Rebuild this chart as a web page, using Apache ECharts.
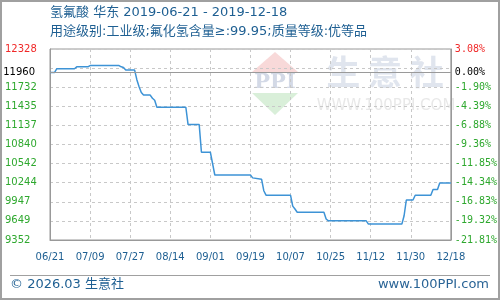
<!DOCTYPE html>
<html>
<head>
<meta charset="utf-8">
<script src="https://cdn.jsdelivr.net/npm/echarts@6/dist/echarts.min.js"></script>
<style>html,body{margin:0;padding:0;background:#fff}#c{width:500px;height:300px}</style>
</head>
<body>
<div id="c"></div>
<script>
// ---- data ----
const titleText = '氢氟酸 华东 2019-06-21 - 2019-12-18';
const subTitleText = '用途级别:工业级;氟化氢含量≥:99.95;质量等级:优等品';
const startDate = '2019-06-21';
const endDate = '2019-12-18';
const dates = ['2019-06-21','2019-06-23','2019-06-24','2019-07-02','2019-07-03','2019-07-08','2019-07-09','2019-07-22','2019-07-23','2019-07-24','2019-07-25','2019-07-29','2019-07-30','2019-07-31','2019-08-01','2019-08-02','2019-08-05','2019-08-06','2019-08-07','2019-08-08','2019-08-21','2019-08-22','2019-08-27','2019-08-28','2019-09-01','2019-09-03','2019-09-19','2019-09-20','2019-09-24','2019-09-25','2019-09-26','2019-10-07','2019-10-08','2019-10-09','2019-10-10','2019-10-22','2019-10-23','2019-10-24','2019-11-10','2019-11-11','2019-11-26','2019-11-27','2019-11-28','2019-12-01','2019-12-02','2019-12-09','2019-12-10','2019-12-12','2019-12-13','2019-12-18'];
const prices = [11960,11960,12020,12020,12050,12050,12070,12070,12050,12040,12000,12000,11850,11740,11650,11610,11610,11560,11530,11420,11420,11150,11150,10720,10720,10365,10365,10320,10300,10120,10050,10050,9880,9835,9785,9785,9680,9650,9650,9600,9600,9730,9975,9975,10050,10050,10140,10140,10240,10240];
const baseValue = 11960;
const yMin = 9352;
const yMax = 12328;
const xTickLabels = ['06/21','07/09','07/27','08/14','09/01','09/19','10/07','10/25','11/12','11/30','12/18'];
const leftTickLabels = ['9352','9649','9947','10244','10542','10840','11137','11435','11732','','12328'];
const rightTickLabels = ['-21.81%','-19.32%','-16.83%','-14.34%','-11.85%','-9.36%','-6.88%','-4.39%','-1.90%','','3.08%'];

// ---- build ----
function dayNum(s){const p=s.split('-').map(Number);return Date.UTC(p[0],p[1]-1,p[2])/86400000;}
const d0 = dayNum(startDate), dEnd = dayNum(endDate) - d0;
const seriesData = dates.map((d,i)=>[dayNum(d)-d0, prices[i]-yMin]);
const ySpan = yMax - yMin, yStep = ySpan/10, xStep = dEnd/10;
const blue = '#1e5f92';
const sans = "'DejaVu Sans','Noto Sans CJK SC',sans-serif";
const mono = "'DejaVu Sans Mono',monospace";
const green = '#2ea82e', red = '#f02828';
function idxY(v){return Math.round(v/yStep);}

const chart = echarts.init(document.getElementById('c'), null, {renderer:'canvas'});
chart.setOption({
  animation:false,
  backgroundColor:'#fff',
  title:{
    text:titleText, subtext:subTitleText, left:50, top:6, itemGap:6, padding:0,
    textStyle:{fontSize:13,fontWeight:'normal',color:blue,fontFamily:sans},
    subtextStyle:{fontSize:13,color:blue,fontFamily:sans}
  },
  grid:{left:50,right:49,top:49,bottom:60,show:true,borderColor:'#999',borderWidth:1},
  xAxis:{
    type:'value',min:0,max:dEnd,interval:xStep,
    axisLine:{show:true,lineStyle:{color:'#999'}},axisTick:{show:false},
    axisLabel:{margin:12,fontSize:10,fontFamily:sans,color:blue,
      formatter:(v)=>xTickLabels[Math.round(v/xStep)]||''},
    splitLine:{show:true,lineStyle:{type:[3,3],color:'#c8c8c8'}}
  },
  yAxis:[{
    type:'value',min:0,max:ySpan,interval:yStep,
    axisLine:{show:true,lineStyle:{color:'#999'}},axisTick:{show:false},
    axisLabel:{margin:45,align:'left',fontSize:10,fontFamily:sans,
      formatter:(v)=>leftTickLabels[idxY(v)]||'',
      color:(v)=>idxY(v)===10?red:green},
    splitLine:{show:true,lineStyle:{type:[3,3],color:'#c8c8c8'}}
  },{
    type:'value',min:0,max:ySpan,interval:yStep,position:'right',
    axisLine:{show:true,lineStyle:{color:'#999'}},axisTick:{show:false},
    axisLabel:{margin:4,fontSize:10,fontFamily:mono,
      formatter:(v)=>rightTickLabels[idxY(v)]||'',
      color:(v)=>idxY(v)===10?red:green},
    splitLine:{show:false}
  }],
  series:[{
    type:'line',data:seriesData,showSymbol:false,symbol:'none',
    lineStyle:{color:'#3d93d6',width:1.5},z:3,
    markLine:{
      silent:true,symbol:'none',
      lineStyle:{color:'#9a9a9a',type:'solid',width:1},
      data:[
        {yAxis:baseValue-yMin,label:{show:true,position:'start',distance:15,formatter:String(baseValue),color:'#000',fontSize:10,fontFamily:sans}},
        {yAxis:baseValue-yMin,label:{show:true,position:'end',distance:4,formatter:'0.00%',color:'#000',fontSize:10,fontFamily:mono}}
      ]
    }
  }],
  graphic:[
    {type:'rect',silent:true,z:-1,shape:{x:1,y:1,width:498,height:298},style:{fill:null,stroke:'#a0a0a0',lineWidth:2}},
    {type:'polygon',silent:true,z:-1,shape:{points:[[275,52],[298,72],[252,72]]},style:{fill:'#f8d9d9'}},
    {type:'polygon',silent:true,z:-1,shape:{points:[[252,93],[298,93],[275,115]]},style:{fill:'#d9efd9'}},
    {type:'text',silent:true,z:-1,style:{x:275,y:83,text:'PPI',align:'center',verticalAlign:'middle',font:"bold 21px 'DejaVu Serif',serif",fill:'#d3d9e6'}},
    {type:'text',silent:true,z:-1,style:{x:385,y:72,text:'生 意 社',align:'center',verticalAlign:'middle',font:"bold 34px 'Noto Sans CJK SC',sans-serif",fill:'#e0e5ee'}},
    {type:'text',silent:true,z:-1,style:{x:386,y:106,text:'WWW.100PPI.COM',align:'center',verticalAlign:'middle',font:"15px 'DejaVu Sans',sans-serif",fill:'#e8e8e8'}},
    {type:'line',silent:true,shape:{x1:10,y1:275.5,x2:490,y2:275.5},style:{stroke:'#a0a0a0',lineWidth:1}},
    {type:'text',silent:true,style:{x:10,y:285,text:'© 2026.03 生意社',verticalAlign:'middle',font:"13px "+sans,fill:blue}},
    {type:'text',silent:true,style:{x:489,y:285,text:'www.100PPI.com',align:'right',verticalAlign:'middle',font:"13px "+sans,fill:'#2a6496'}}
  ]
});
</script>
</body>
</html>
